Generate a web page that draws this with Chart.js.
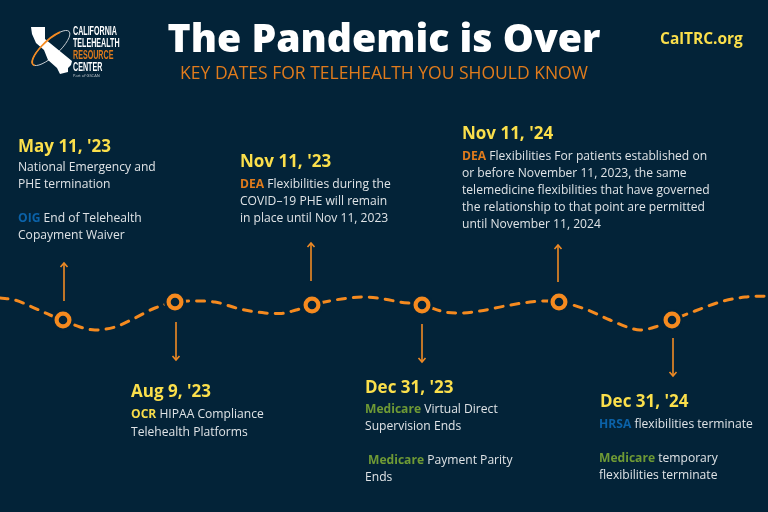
<!DOCTYPE html>
<html>
<head>
<meta charset="utf-8">
<style>
  html, body { margin: 0; padding: 0; background: #032338; }
  canvas { display: block; }
</style>
<script src="https://cdn.jsdelivr.net/npm/chart.js@4"></script>
</head>
<body>
<canvas id="timeline" width="768" height="512"></canvas>
<script>
  // Wavy timeline (x, y in picture pixels)
  const waveX = [0, 15, 30, 50, 63, 80, 95, 115, 135, 155, 175, 195, 215, 240, 265, 280, 296, 312, 335, 365, 384, 400, 422, 445, 460, 480, 505, 530, 545, 560, 585, 610, 630, 640, 655, 672, 695, 720, 745, 768];
  const waveY = [298, 300, 306, 315, 320, 327, 330, 327, 318, 308, 302, 301, 302, 309, 313, 313.5, 310, 305, 300, 297, 299, 302, 305, 312, 313, 311, 306, 302, 301, 302, 309, 320, 328, 330, 327, 320, 311, 302, 297, 296];

  // Date markers on the wave
  const markerX = [63, 175, 312, 422, 559, 672];
  const markerY = [320, 302, 305, 305, 302, 320];

  // Arrows: from near the marker out to the text
  const arrowX = [64, 176, 311, 422, 558, 673];
  const arrowFrom = [301, 322, 281, 324, 282, 338];
  const arrowTo = [263, 360, 243, 362, 245, 376];

  const titleText = 'The Pandemic is Over';
  const subtitleText = 'KEY DATES FOR TELEHEALTH YOU SHOULD KNOW';
  const siteText = 'CalTRC.org';
  const logoLines = ['CALIFORNIA', 'TELEHEALTH', 'RESOURCE', 'CENTER'];
  const logoFoot = 'Part of GSCAN';
  const logoShape = [[31, 27], [45, 27], [45, 39], [72, 61], [71, 65], [68, 68], [68, 72], [60, 74], [57, 68], [48, 60], [44, 50], [36, 43], [32, 34]];

  const dates = ["May 11, '23", "Aug 9, '23", "Nov 11, '23", "Dec 31, '23", "Nov 11, '24", "Dec 31, '24"];
  const dateX = [18, 131, 240, 365, 462, 600];
  const dateY = [152, 397, 167, 393, 139, 407];

  // Each line: [x, y, coloured agency word, rest of the line]
  const bodyLines = [
    [18, 171, '', 'National Emergency and'],
    [18, 188, '', 'PHE termination'],
    [18, 222, 'OIG', 'End of Telehealth'],
    [18, 239, '', 'Copayment Waiver'],
    [131, 418, 'OCR', 'HIPAA Compliance'],
    [131, 436, '', 'Telehealth Platforms'],
    [240, 188, 'DEA', 'Flexibilities during the'],
    [240, 205, '', 'COVID–19 PHE will remain'],
    [240, 222, '', 'in place until Nov 11, 2023'],
    [365, 413, 'Medicare', 'Virtual Direct'],
    [365, 430, '', 'Supervision Ends'],
    [368, 464, 'Medicare', 'Payment Parity'],
    [365, 481, '', 'Ends'],
    [462, 160, 'DEA', 'Flexibilities For patients established on'],
    [462, 177, '', 'or before November 11, 2023, the same'],
    [462, 194, '', 'telemedicine flexibilities that have governed'],
    [462, 211, '', 'the relationship to that point are permitted'],
    [462, 228, '', 'until November 11, 2024'],
    [599, 428, 'HRSA', 'flexibilities terminate'],
    [599, 462, 'Medicare', 'temporary'],
    [599, 479, '', 'flexibilities terminate']
  ];
  const agencyColours = { OIG: '#0b62a8', OCR: '#f6dc4a', DEA: '#e07b1c', Medicare: '#6f9a35', HRSA: '#0b62a8' };

  const navy = '#032338', orange = '#f58a1f', yellow = '#fbdf4b', bodyGrey = '#dfe3e6';
  const fontName = '"Open Sans", "Noto Sans", sans-serif';

  // Draws the arrowheads, the logo and all the text using the chart's scales
  const posterPlugin = {
    id: 'poster',
    afterDatasetsDraw(chart) {
      const c = chart.ctx, sx = chart.scales.x, sy = chart.scales.y;
      const px = v => sx.getPixelForValue(v), py = v => sy.getPixelForValue(v);
      c.save();

      // arrowheads
      c.strokeStyle = '#f08a24';
      c.lineWidth = 1.6;
      arrowX.forEach(function(x, i) {
        const dir = arrowTo[i] > arrowFrom[i] ? -1 : 1;
        c.beginPath();
        c.moveTo(px(x - 3.5), py(arrowTo[i] + dir * 4));
        c.lineTo(px(x), py(arrowTo[i]));
        c.lineTo(px(x + 3.5), py(arrowTo[i] + dir * 4));
        c.stroke();
      });

      // logo: grey ring behind the state, orange part of the ring in front
      c.lineWidth = 1;
      c.strokeStyle = '#c9ced3';
      c.beginPath();
      c.ellipse(px(51), py(48), 24.5, 8, -0.74, 0, Math.PI * 2);
      c.stroke();
      c.fillStyle = '#ffffff';
      c.beginPath();
      logoShape.forEach(function(p, i) {
        if (i === 0) c.moveTo(px(p[0]), py(p[1])); else c.lineTo(px(p[0]), py(p[1]));
      });
      c.closePath();
      c.fill();
      c.lineWidth = 1.7;
      c.strokeStyle = orange;
      c.beginPath();
      c.ellipse(px(51), py(48), 24.5, 8, -0.74, 2.9, 5.5);
      c.stroke();
      c.textBaseline = 'alphabetic';
      c.textAlign = 'left';
      c.font = 'bold 12.5px "Liberation Sans", sans-serif';
      logoLines.forEach(function(t, i) {
        c.save();
        c.translate(px(73), py(35 + i * 12));
        c.scale(0.57, 1);
        c.fillStyle = i === 2 ? '#e07b1c' : '#ffffff';
        c.fillText(t, 0, 0);
        c.restore();
      });
      c.font = '4px ' + fontName;
      c.fillStyle = '#c9ced3';
      c.fillText(logoFoot, px(73), py(77));

      // header
      c.textAlign = 'center';
      c.fillStyle = '#ffffff';
      c.font = '800 39.2px ' + fontName;
      c.fillText(titleText, px(384), py(52));
      c.fillStyle = '#e07b1c';
      c.font = '17.5px ' + fontName;
      c.fillText(subtitleText, px(384), py(79));
      c.textAlign = 'left';
      c.fillStyle = yellow;
      c.font = 'bold 15.5px ' + fontName;
      c.fillText(siteText, px(660), py(44));

      // dates
      c.font = 'bold 17px ' + fontName;
      c.fillStyle = yellow;
      dates.forEach(function(d, i) { c.fillText(d, px(dateX[i]), py(dateY[i])); });

      // body lines, agency word in its own colour
      bodyLines.forEach(function(l) {
        let x = px(l[0]);
        if (l[2]) {
          c.font = 'bold 12.1px ' + fontName;
          c.fillStyle = agencyColours[l[2]];
          c.fillText(l[2], x, py(l[1]));
          x += c.measureText(l[2] + ' ').width;
        }
        c.font = '12.1px ' + fontName;
        c.fillStyle = bodyGrey;
        c.fillText(l[3], x, py(l[1]));
      });
      c.restore();
    }
  };

  const ctx = document.getElementById('timeline').getContext('2d');
  const points = (xs, ys) => xs.map((x, i) => ({ x: x, y: ys[i] }));
  const timeline = new Chart(ctx, {
    type: 'line',
    data: {
      datasets: [
        {
          data: points(waveX, waveY),
          order: 3,
          borderColor: orange,
          borderWidth: 3,
          borderDash: [8, 8],
          borderCapStyle: 'round',
          cubicInterpolationMode: 'monotone',
          pointRadius: 0
        },
        {
          // navy gap cut out of the wave around each marker
          data: points(markerX, markerY),
          order: 2,
          showLine: false,
          pointRadius: 11,
          pointBorderWidth: 0,
          pointBackgroundColor: navy
        },
        {
          data: points(markerX, markerY),
          order: 1,
          showLine: false,
          pointRadius: 6.4,
          pointBorderWidth: 4.2,
          pointBorderColor: orange,
          pointBackgroundColor: navy
        }
      ].concat(arrowX.map(function(x, i) {
        return {
          data: [{ x: x, y: arrowFrom[i] }, { x: x, y: arrowTo[i] }],
          order: 1,
          borderColor: '#f08a24',
          borderWidth: 1.6,
          pointRadius: 0
        };
      }))
    },
    options: {
      responsive: false,
      animation: false,
      layout: { padding: 0, autoPadding: false },
      plugins: { legend: { display: false }, tooltip: { enabled: false } },
      scales: {
        x: { type: 'linear', min: 0, max: 768, display: false },
        y: { type: 'linear', min: 0, max: 512, reverse: true, display: false }
      }
    },
    plugins: [posterPlugin]
  });
</script>
</body>
</html>
